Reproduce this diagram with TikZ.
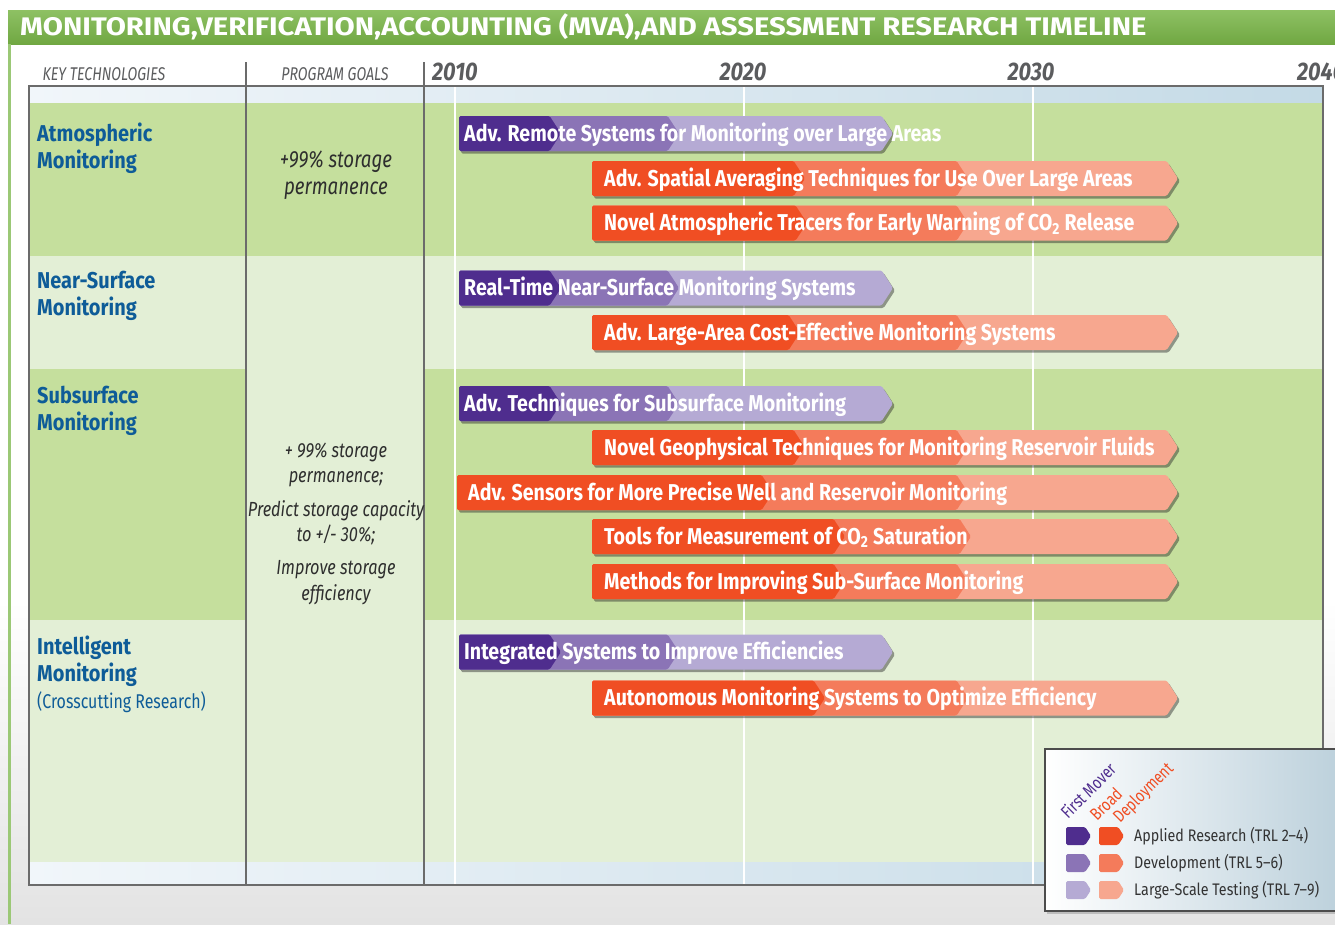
\documentclass[tikz,border=0pt]{standalone}
\usepackage{fontspec}
\setmainfont{Fira Sans}
\newfontfamily\condf[FakeStretch=0.80]{Fira Sans}
\newfontfamily\barf[FakeStretch=0.855]{Fira Sans}
\newfontfamily\lblf[FakeStretch=0.87]{Fira Sans}
\newfontfamily\hdrf[FakeStretch=0.77]{Fira Sans}
\newfontfamily\titlef[FakeStretch=1.15]{Fira Sans}
\usepackage{tikz}
\usetikzlibrary{shadows,positioning,calc}

\definecolor{titlegreen}{HTML}{7AB648}
\definecolor{rowdark}{HTML}{C5DF9D}
\definecolor{rowlight}{HTML}{E3EFD6}
\definecolor{stripleft}{HTML}{F1F6FA}
\definecolor{stripright}{HTML}{C4DAE6}
\definecolor{lblblue}{HTML}{0E5C98}
\definecolor{framegray}{HTML}{6B6B6B}
\definecolor{hdrgray}{HTML}{5B5C5E}
\definecolor{goalgray}{HTML}{2E2E2E}
\definecolor{purA}{HTML}{4F2D8E}
\definecolor{purB}{HTML}{8B74B6}
\definecolor{purC}{HTML}{B5AAD4}
\definecolor{orA}{HTML}{F04E23}
\definecolor{orB}{HTML}{F47B5B}
\definecolor{orC}{HTML}{F7A78F}

\tikzset{
  bartxt/.style={anchor=base west,inner sep=0pt,text=white,
    font=\barf\bfseries\fontsize{23}{24}\selectfont},
  rowlbl/.style={anchor=north west,inner sep=0pt,align=left,text=lblblue,
    font=\lblf\bfseries\fontsize{23}{27}\selectfont},
  goaltxt/.style={anchor=north,inner sep=0pt,align=center,text=goalgray,
    font=\condf\itshape\fontsize{20.5}{25.5}\selectfont},
  hdr/.style={anchor=base,inner sep=0pt,text=hdrgray,
    font=\hdrf\itshape\fontsize{18.5}{20}\selectfont},
  yearlbl/.style={anchor=base,inner sep=0pt,text=hdrgray,
    font=\barf\bfseries\itshape\fontsize{25.5}{26}\selectfont},
  legtxt/.style={anchor=base west,inner sep=0pt,text=black!80,
    font=\barf\fontsize{16.8}{20}\selectfont},
  legrot/.style={anchor=base west,inner sep=0pt,rotate=45,
    font=\condf\fontsize{17.5}{18}\selectfont},
  frameline/.style={draw=framegray,line width=1.3bp},
  gridline/.style={draw=white,line width=1.6bp},
  barshadow/.style={drop shadow={shadow xshift=2bp,shadow yshift=-2.5bp,
    opacity=.45,fill=black!85}},
}

% chevron: x0, tip, y, half height, style
\newcommand{\chevron}[5]{\fill[rounded corners=1.5bp,#5] (#1,#3-#4) -- (#2-0.65*#4,#3-#4)
  -- (#2,#3) -- (#2-0.65*#4,#3+#4) -- (#1,#3+#4) -- cycle;}
% bar: name, y, x0, dark tip, mid tip, end tip, colour, text, text x
\newcommand{\tlbar}[9]{%
  \chevron{#3}{#6}{#2}{17.5}{#7C,barshadow}
  \chevron{#3}{#5}{#2}{17.5}{#7B}
  \chevron{#3}{#4}{#2}{17.5}{#7A}
  \node[bartxt] (#1) at (#9,#2+7.5) {#8};}

\begin{document}
\begin{tikzpicture}[x=1bp,y=-1bp]
\useasboundingbox (0,0) rectangle (1335,924);
\clip (0,0) rectangle (1335,924);
%% page and title
\fill[white] (0,0) rectangle (1335,924);
\shade[top color=white,bottom color=black!11] (0,600) rectangle (1335,924);
\shade[top color=titlegreen!85!white,bottom color=titlegreen!92!black] (8,10) rectangle (1335,44);
\fill[titlegreen!75!white] (8,44) rectangle (10.5,924);
\node[anchor=base west,inner sep=0pt,text=white,font=\titlef\bfseries\fontsize{25.5}{26}\selectfont]
  (title) at (20,35.5) {MONITORING,VERIFICATION,ACCOUNTING (MVA),AND ASSESSMENT RESEARCH TIMELINE};
%% header
\node[hdr] (keytech) at (104,80) {KEY TECHNOLOGIES};
\node[hdr] (goals) at (335,80) {PROGRAM GOALS};
\node[yearlbl,anchor=base west] (y2010) at (432,80) {2010};
\node[yearlbl] (y2020) at (743,80) {2020};
\node[yearlbl] (y2030) at (1031,80) {2030};
\node[yearlbl,anchor=base west] (y2040) at (1297,80) {2040};
%% table
\shade[left color=stripleft,right color=stripright] (29,86) rectangle (1323,103);
\shade[left color=stripleft,right color=stripright] (29,862) rectangle (1323,885);
\fill[rowdark] (29,103) rectangle (1323,256);
\fill[rowlight] (29,256) rectangle (1323,369);
\fill[rowdark] (29,369) rectangle (1323,620);
\fill[rowlight] (29,620) rectangle (1323,862);
\fill[rowlight] (246,256) rectangle (424,862);
\foreach \gx in {455,744,1033}
  \draw[gridline] (\gx,86) -- (\gx,885);
\draw[frameline] (29,86) rectangle (1323,885);
\draw[frameline] (246,62) -- (246,885);
\draw[frameline] (424,62) -- (424,885);
%% key technologies
\node[rowlbl] (atmo) at (37,123) {Atmospheric\\Monitoring};
\node[rowlbl] (nearsurf) at (37,271) {Near-Surface\\Monitoring};
\node[rowlbl] (subsurf) at (37,386) {Subsurface\\Monitoring};
\node[rowlbl] (intell) at (37,636) {Intelligent\\Monitoring\\{\condf\mdseries\fontsize{20}{27}\selectfont(Crosscutting Research)}};
%% program goals
\node[goaltxt,font=\condf\itshape\fontsize{23.5}{27}\selectfont] (goal1) at (336,151) {+99\% storage\\permanence};
\node[goaltxt] (goal2) at (336,442.5) {+ 99\% storage\\permanence;\\[8bp]Predict storage capacity\\to +/- 30\%;\\[8bp]Improve storage\\efficiency};
%% timeline bars
\tlbar{remote}{133.5}{459}{561}{679}{893}{pur}{Adv. Remote Systems for Monitoring over Large Areas}{464}
\tlbar{spatial}{178.5}{592}{805}{968}{1178}{or}{Adv. Spatial Averaging Techniques for Use Over Large Areas}{604}
\tlbar{tracers}{223}{592}{807}{968}{1178}{or}{Novel Atmospheric Tracers for Early Warning of CO\textsubscript{2} Release}{604}
\tlbar{realtime}{288}{459}{561}{679}{893}{pur}{Real-Time Near-Surface Monitoring Systems}{464}
\tlbar{largearea}{332.5}{592}{800}{968}{1178}{or}{Adv. Large-Area Cost-Effective Monitoring Systems}{604}
\tlbar{subtech}{403.5}{459}{561}{679}{893}{pur}{Adv. Techniques for Subsurface Monitoring}{464}
\tlbar{geophys}{447.5}{592}{805}{968}{1178}{or}{Novel Geophysical Techniques for Monitoring Reservoir Fluids}{604}
\tlbar{sensors}{492.5}{457}{773}{968}{1178}{or}{Adv. Sensors for More Precise Well and Reservoir Monitoring}{468}
\tlbar{saturation}{536.5}{592}{845}{971}{1178}{or}{Tools for Measurement of CO\textsubscript{2} Saturation}{604}
\tlbar{methods}{581.5}{592}{845}{968}{1178}{or}{Methods for Improving Sub-Surface Monitoring}{604}
\tlbar{integrated}{652}{459}{561}{679}{893}{pur}{Integrated Systems to Improve Efficiencies}{464}
\tlbar{autonomous}{698}{592}{825}{968}{1178}{or}{Autonomous Monitoring Systems to Optimize Efficiency}{604}
%% legend
\path[draw=black!70,line width=1.2bp,left color=white,right color=stripright!95!black,
  drop shadow={shadow xshift=2bp,shadow yshift=-2.5bp,opacity=.4}] (1045,749) rectangle (1350,911);
\node[legrot,text=purA] (firstmover) at (1068,820) {First Mover};
\node[legrot,text=orA] (broad) at (1097,822) {Broad};
\node[legrot,text=orA] (deploy) at (1120,824) {Deployment};
\chevron{1066}{1091}{836}{9}{purA}
\chevron{1099}{1124}{836}{9}{orA}
\chevron{1066}{1091}{863}{9}{purB}
\chevron{1099}{1124}{863}{9}{orB}
\chevron{1066}{1091}{890}{9}{purC}
\chevron{1099}{1124}{890}{9}{orC}
\node[legtxt] (applied) at (1134,841) {Applied Research (TRL 2–4)};
\node[legtxt] (develop) at (1134,868) {Development (TRL 5–6)};
\node[legtxt] (largescale) at (1134,895) {Large-Scale Testing (TRL 7–9)};
\end{tikzpicture}
\end{document}
